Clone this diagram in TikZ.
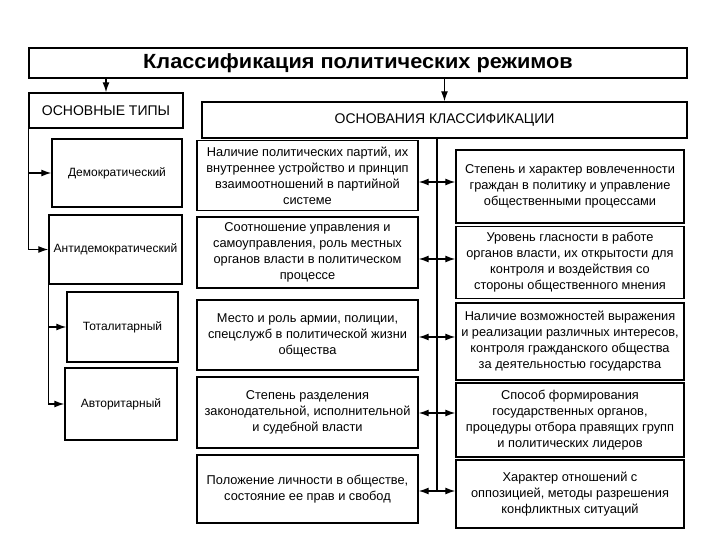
\documentclass[tikz,border=0pt]{standalone}
\usepackage{fontspec}
\setmainfont{Liberation Sans}
\newfontfamily\boxfont{Liberation Sans}
\newfontfamily\titlefont{Liberation Sans}[FakeStretch=1.06]
\usetikzlibrary{arrows.meta}
\tikzset{
  box/.style={draw, line width=1.4pt, inner sep=0pt, align=center},
  mbox/.style={box, font=\boxfont\fontsize{12.8}{16}\selectfont},
  lbox/.style={box, font=\boxfont\fontsize{12}{14}\selectfont},
  hbox/.style={box, font=\boxfont\fontsize{14}{16}\selectfont},
  conn/.style={line width=1.3pt},
  arr/.style={conn, -{Latex[length=10pt,width=7pt]}},
  darr/.style={conn, {Latex[length=10pt,width=7pt]}-{Latex[length=10pt,width=7pt]}}
}
\begin{document}
\begin{tikzpicture}[x=1pt,y=-1pt]
\useasboundingbox (0,0) rectangle (720,540);
% title
\node[box, font=\titlefont\bfseries\fontsize{20.5}{23}\selectfont, minimum width=658pt, minimum height=30pt] (title) at (358,63) {Классификация политических режимов};
% headers
\node[hbox, minimum width=154pt, minimum height=35pt] (osn) at (106,110.5) {ОСНОВНЫЕ ТИПЫ};
\node[hbox, minimum width=485pt, minimum height=36pt] (osnov) at (444.5,120) {ОСНОВАНИЯ КЛАССИФИКАЦИИ};
\draw[arr] (title.south -| osn.north) -- (osn.north);
\draw[arr] (title.south -| osnov.north) -- (osnov.north);
% left column
\node[lbox, minimum width=130pt, minimum height=68pt] (dem) at (117,173) {Демократический};
\node[lbox, minimum width=133pt, minimum height=69pt] (antidem) at (115.5,249.5) {Антидемократический};
\node[lbox, minimum width=111pt, minimum height=70pt] (total) at (122.5,327) {Тоталитарный};
\node[lbox, minimum width=112pt, minimum height=72pt] (avtor) at (121,404) {Авторитарный};
\draw[conn] (osn.south west) -- (osn.south west |- antidem.west);
\draw[arr] (osn.south west |- dem.west) -- (dem.west);
\draw[arr] (osn.south west |- antidem.west) -- (antidem.west);
\draw[conn] (antidem.south west) -- (antidem.south west |- avtor.west);
\draw[arr] (antidem.south west |- total.west) -- (total.west);
\draw[arr] (antidem.south west |- avtor.west) -- (avtor.west);
% middle column
\node[mbox, minimum width=221pt, minimum height=70pt] (m1) at (307.5,175.5) {Наличие политических партий, их\\внутреннее устройство и принцип\\взаимоотношений в партийной\\системе};
\node[mbox, minimum width=221pt, minimum height=71pt] (m2) at (307.5,252.5) {Соотношение управления и\\самоуправления, роль местных\\органов власти в политическом\\процессе};
\node[mbox, minimum width=221pt, minimum height=70pt] (m3) at (307.5,335) {Место и роль армии, полиции,\\спецслужб в политической жизни\\общества};
\node[mbox, minimum width=221pt, minimum height=71pt] (m4) at (307.5,412.5) {Степень разделения\\законодательной, исполнительной\\и судебной власти};
\node[mbox, minimum width=221pt, minimum height=68pt] (m5) at (307.5,489) {Положение личности в обществе,\\состояние ее прав и свобод};
% right column
\node[mbox, minimum width=228pt, minimum height=73pt] (r1) at (570,186.5) {Степень и характер вовлеченности\\граждан в политику и управление\\общественными процессами};
\node[mbox, minimum width=228pt, minimum height=72pt] (r2) at (570,262.5) {Уровень гласности в работе\\органов власти, их открытости для\\контроля и воздействия со\\стороны общественного мнения};
\node[mbox, minimum width=228pt, minimum height=77pt] (r3) at (570,341.5) {Наличие возможностей выражения\\и реализации различных интересов,\\контроля гражданского общества\\за деятельностью государства};
\node[mbox, minimum width=228pt, minimum height=74pt] (r4) at (570,420) {Способ формирования\\государственных органов,\\процедуры отбора правящих групп\\и политических лидеров};
\node[mbox, minimum width=228pt, minimum height=68pt] (r5) at (570,494) {Характер отношений с\\оппозицией, методы разрешения\\конфликтных ситуаций};
% central line
\coordinate (c1) at (437,182);
\coordinate (c2) at (437,259);
\coordinate (c3) at (437,337);
\coordinate (c4) at (437,413);
\coordinate (c5) at (437,491);
\draw[conn] (osnov.south -| c1) -- (c5);
\draw[darr] (c1 -| m1.east) -- (c1 -| r1.west);
\draw[darr] (c2 -| m2.east) -- (c2 -| r2.west);
\draw[darr] (c3 -| m3.east) -- (c3 -| r3.west);
\draw[darr] (c4 -| m4.east) -- (c4 -| r4.west);
\draw[darr] (c5 -| m5.east) -- (c5 -| r5.west);
\end{tikzpicture}
\end{document}
